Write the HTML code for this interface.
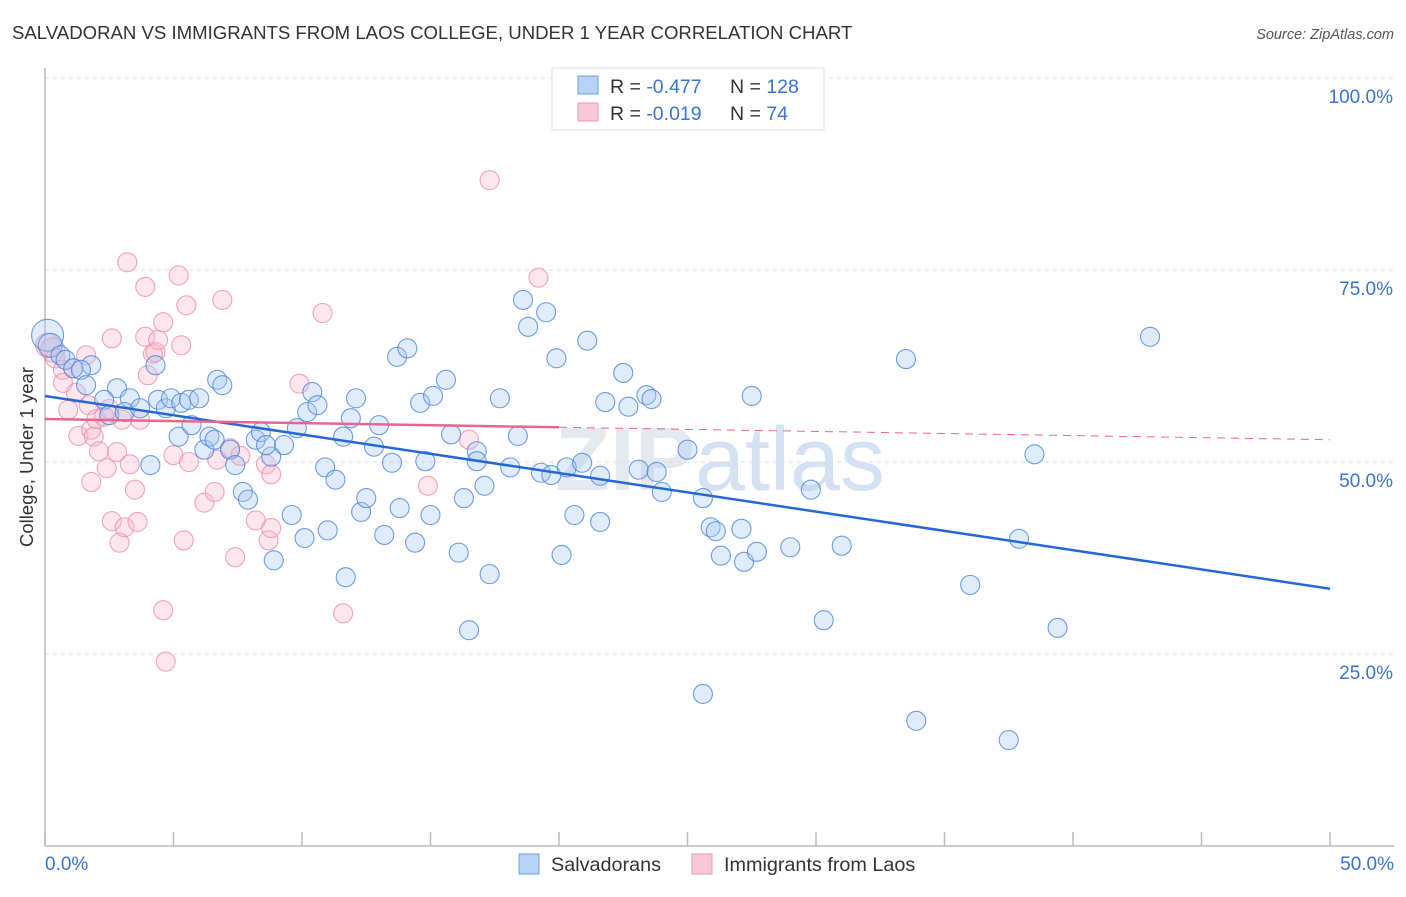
<!DOCTYPE html>
<html><head><meta charset="utf-8"><style>
body{margin:0;background:#fff;font-family:"Liberation Sans",sans-serif;}
svg text{font-family:"Liberation Sans",sans-serif;}
</style></head><body>
<svg id="chart" width="1406" height="892" viewBox="0 0 1406 892" xmlns="http://www.w3.org/2000/svg">
<text x="12" y="39" font-size="18.6" fill="#333">SALVADORAN VS IMMIGRANTS FROM LAOS COLLEGE, UNDER 1 YEAR CORRELATION CHART</text>
<text x="1394" y="39" font-size="14.5" fill="#555" font-style="italic" text-anchor="end">Source: ZipAtlas.com</text>
<text x="720" y="490" font-size="90" fill="#e4e9f0" text-anchor="middle" font-weight="bold">ZIP<tspan font-weight="normal" fill="#d5e2f3">atlas</tspan></text>
<g id="grid"></g>
<g id="axes"></g>
<g id="pts"></g>
<g id="lines"></g>
<text transform="translate(33,457) rotate(-90)" font-size="18.5" fill="#333" text-anchor="middle">College, Under 1 year</text>
<g>
<rect x="552" y="68" width="272" height="62" fill="#fff" stroke="#ddd"/>
<rect x="578" y="76" width="20" height="18" fill="#b8d3f5" stroke="#6fa0e0"/>
<rect x="578" y="103" width="20" height="18" fill="#f9c8d6" stroke="#ec9ab2"/>
<text x="610" y="93" font-size="19.5" fill="#333">R = <tspan fill="#3a73d0">-0.477</tspan><tspan x="730">N = </tspan><tspan fill="#3a73d0">128</tspan></text>
<text x="610" y="120" font-size="19.5" fill="#333">R = <tspan fill="#3a73d0"> -0.019</tspan><tspan x="730">N = </tspan><tspan fill="#3a73d0">  74</tspan></text>
</g>
<g>
<rect x="519" y="854" width="20" height="20" fill="#b8d3f5" stroke="#6fa0e0"/>
<text x="551" y="871" font-size="19.8" fill="#333">Salvadorans</text>
<rect x="692" y="854" width="20" height="20" fill="#f9c8d6" stroke="#ec9ab2"/>
<text x="724" y="871" font-size="19.8" fill="#333">Immigrants from Laos</text>
</g>
</svg>
<script>
const blueX=[0.1,0.2,0.6,0.8,1.1,1.8,1.4,1.6,2.8,2.3,2.5,3.3,3.1,3.7,4.1,4.3,4.4,4.7,4.9,5.2,5.3,5.6,5.7,6.0,6.2,6.4,6.6,6.7,6.9,7.2,7.4,7.7,7.9,8.2,8.4,8.8,8.9,8.6,9.3,9.6,9.8,10.1,10.2,10.4,10.6,10.9,11.0,11.3,11.6,11.7,11.9,12.1,12.3,12.5,13.0,12.8,13.2,13.5,13.7,13.8,14.1,14.4,14.6,14.8,15.0,15.1,15.6,15.8,16.1,16.3,16.5,16.8,16.8,17.1,17.3,17.7,18.1,18.4,18.6,18.8,19.3,19.5,19.7,19.9,20.1,20.3,20.6,20.9,21.1,21.6,21.6,21.8,22.5,22.7,23.1,23.4,23.6,23.8,24.0,25.0,25.6,25.6,25.9,26.1,26.3,27.1,27.2,27.7,27.5,29.0,29.8,30.3,31.0,33.5,33.9,36.0,37.5,37.9,38.5,39.4,43.0];
const blueY=[66.5,65.2,63.9,63.3,62.2,62.6,62.0,60.0,59.6,58.1,56.1,58.3,56.5,57.0,49.6,62.6,58.1,57.0,58.3,53.3,57.7,58.1,54.8,58.3,51.6,53.3,52.9,60.7,60.0,51.6,49.6,46.1,45.1,52.9,53.9,50.7,37.2,52.2,52.2,43.1,54.4,40.1,56.5,59.1,57.4,49.3,41.1,47.7,53.3,35.0,55.7,58.3,43.5,45.3,54.8,52.0,40.5,49.9,63.7,44.0,64.8,39.5,57.7,50.1,43.1,58.6,60.7,53.6,38.2,45.3,28.1,51.4,50.1,46.9,35.4,58.3,49.3,53.4,71.1,67.6,48.6,69.5,48.3,63.5,37.9,49.3,43.1,49.9,65.8,48.2,42.2,57.8,61.6,57.2,49.0,58.7,58.2,48.7,46.1,51.6,19.8,45.3,41.5,41.0,37.8,41.3,37.0,38.3,58.6,38.9,46.4,29.4,39.1,63.4,16.3,34.0,13.8,40.0,51.0,28.4,66.3];
const pinkX=[0.1,0.3,0.4,0.7,0.7,0.9,1.1,1.2,1.3,1.6,1.7,1.8,1.8,1.9,2.0,2.1,2.3,2.4,2.5,2.6,2.6,2.8,2.9,3.0,3.1,3.2,3.3,3.5,3.6,3.7,3.9,3.9,4.0,4.2,4.3,4.4,4.6,4.6,4.7,5.0,5.2,5.3,5.4,5.5,5.6,6.2,6.6,6.7,6.9,7.2,7.4,7.6,8.2,8.6,8.7,8.8,8.8,9.9,10.8,11.6,14.9,16.5,17.3,19.2];
const pinkY=[65.2,64.6,63.5,62.0,60.3,56.8,62.2,59.0,53.4,63.9,57.4,47.4,54.2,53.3,55.6,51.4,55.9,49.2,56.9,66.1,42.3,51.3,39.5,55.5,41.5,76.0,49.7,46.4,42.2,55.5,72.8,66.3,61.3,64.1,64.3,65.9,68.2,30.7,24.0,50.9,74.3,65.2,39.8,70.4,50.0,44.7,46.1,50.3,71.1,51.8,37.6,50.8,42.4,49.7,39.8,41.4,48.4,60.2,69.4,30.3,46.9,52.9,86.7,74.0];
const blueTrend=[58.6,33.5];
const pinkTrend=[55.6,52.9];
const pinkSolidEnd=20;
const yTicks=[25,50,75,100];
const xTickLabels=["0.0%","50.0%"];
const NS="http://www.w3.org/2000/svg";
const sx=v=>45+v*25.7, sy=v=>846-v*7.68;
function mk(tag,attrs,parent){const e=document.createElementNS(NS,tag);for(const k in attrs)e.setAttribute(k,attrs[k]);parent.appendChild(e);return e;}
const grid=document.getElementById('grid'),axes=document.getElementById('axes'),pts=document.getElementById('pts'),lines=document.getElementById('lines');
yTicks.forEach(t=>{
 const l=mk('line',{x1:45,x2:1394,y1:sy(t),y2:sy(t),stroke:'#ddd','stroke-dasharray':'4,4'},grid);
 
 
 const tx=mk('text',{x:1393,y:sy(t)+25,'font-size':19,fill:'#3a73d0','text-anchor':'end'},grid);
 tx.textContent=t.toFixed(1)+'%';
 
 
});
const ya=mk('line',{x1:45,x2:45,y1:68,y2:846,stroke:'#bbb','stroke-width':1.5},axes);


const xa=mk('line',{x1:45,x2:1394,y1:846,y2:846,stroke:'#bbb','stroke-width':1.5},axes);


for(let i=0;i<=10;i++){const t=mk('line',{x1:sx(i*5),x2:sx(i*5),y1:832,y2:846,stroke:'#bbb','stroke-width':1.5},axes);
 
 }
[[0,'start',45],[50,'end',1394]].forEach((d,i)=>{const t=mk('text',{x:d[2],y:870,'font-size':19,fill:'#3a73d0','text-anchor':d[1]},axes);t.textContent=xTickLabels[i];
 
 });
function dots(X,Y,fill,stroke,name){X.forEach((x,i)=>{const r=(i===0&&name==='salvadoran-point')?16:(i<2?12:9.5);
 const c=mk('circle',{cx:sx(x),cy:sy(Y[i]),r:r,fill:fill,'fill-opacity':0.35,stroke:stroke,'stroke-width':1.1,'stroke-opacity':0.8},pts);
 
 });}
dots(pinkX,pinkY,'#f9b8cb','#ec8fab','laos-point');
dots(blueX,blueY,'#a8c8f2','#4a86da','salvadoran-point');
const bl=mk('line',{x1:sx(0),y1:sy(blueTrend[0]),x2:sx(50),y2:sy(blueTrend[1]),stroke:'#2468d4','stroke-width':2.5},lines);


const pf=v=>pinkTrend[0]+(pinkTrend[1]-pinkTrend[0])*v/50;
const pl=mk('line',{x1:sx(0),y1:sy(pf(0)),x2:sx(pinkSolidEnd),y2:sy(pf(pinkSolidEnd)),stroke:'#e8668e','stroke-width':2.5},lines);


const pd=mk('line',{x1:sx(pinkSolidEnd),y1:sy(pf(pinkSolidEnd)),x2:sx(50),y2:sy(pf(50)),stroke:'#e8668e','stroke-width':1,'stroke-dasharray':'8,6'},lines);


</script>
</body></html>
